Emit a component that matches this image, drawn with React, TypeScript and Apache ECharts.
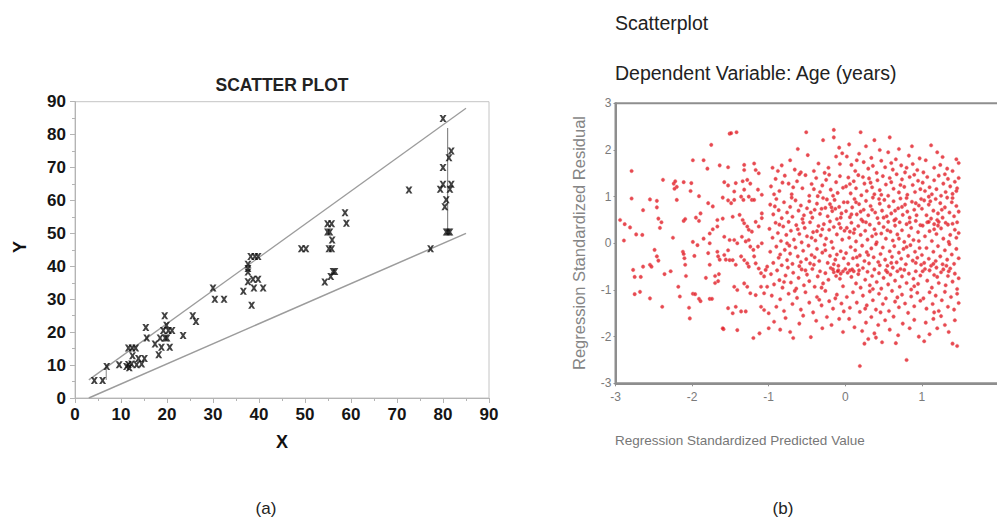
import React, { useEffect, useRef } from "react";
import * as echarts from "echarts";

// ---------- Chart (a): SCATTER PLOT ----------
const axisTicksA = [0, 10, 20, 30, 40, 50, 60, 70, 80, 90];

const scatterPointsA: [number, number][] = [
  [4.2, 5.3], [6.0, 5.3], [6.9, 9.6], [9.6, 10.1], [11.2, 9.6], [11.8, 9.2], [11.6, 10.2], [12.3, 10.3],
  [13.4, 10.1], [14.5, 10.3], [11.6, 15.2], [12.4, 15.2], [13.2, 15.2], [12.5, 12.8], [13.8, 12],
  [15.1, 12], [15.4, 21.4], [15.6, 18.2], [17.4, 16.4], [18.2, 13.1], [18.8, 15.4], [18.5, 18.2],
  [19.6, 18.2], [19.2, 20.5], [20.3, 20.5], [21.1, 20.5], [19.5, 25], [19.9, 22.1], [20, 18.2],
  [20.6, 15.4], [23.5, 19], [25.6, 25], [26.3, 23.2], [30, 33.4], [30.4, 30], [32.4, 30], [36.6, 32.4],
  [37.6, 40.6], [37.6, 39.3], [37.6, 38.3], [37.6, 35.3], [38.2, 43], [39.1, 43], [39.8, 43],
  [38.4, 28.2], [38.7, 36.1], [39.8, 36.1], [38.9, 33.4], [40.9, 33.4], [49.2, 45.3], [50.2, 45.3],
  [54.3, 35.2], [54.9, 50.4], [55.4, 50.4], [54.9, 52.9], [55.8, 52.9], [55.2, 45.3], [55.8, 45.3],
  [55.9, 48], [55.6, 36.9], [56.1, 38.4], [56.5, 38.4], [58.7, 56.3], [59, 53.1], [72.6, 63.2],
  [77.3, 45.3], [80, 84.9], [80, 70], [79.4, 63.4], [80, 64.9], [80.4, 58.1], [80.7, 60.2],
  [80.7, 50.4], [81.1, 50.4], [81.5, 50.4], [81.3, 73], [81.8, 75], [81.5, 63.4], [81.8, 64.9],
];

const upperBound: [number, number][] = [[3, 5.5], [85, 88]];
const lowerBound: [number, number][] = [[3, 0], [85, 50]];
const rangeBar: [number, number][] = [[81, 50.5], [81, 82]];
const smallBar: [number, number][] = [[6.8, 5.5], [6.8, 10]];

// ---------- Chart (b): Residual scatterplot ----------
const axisTicksB = [-3, -2, -1, 0, 1, 2, 3];

const residualsBandA: [number, number][] = [
  [-2.94, 0.5], [-2.88, 0.41], [-2.81, 0.34], [-2.89, 0.06], [-2.79, 1.55], [-2.79, 0.96], [-2.73, 0.19],
  [-2.65, 0.18], [-2.64, 0.71], [-2.55, 0.94], [-2.46, 0.91], [-2.46, 0.77], [-2.44, 0.53], [-2.4, 0.45],
  [-2.42, 0.33], [-2.77, -0.57], [-2.75, -0.72], [-2.67, -0.72], [-2.64, -0.5], [-2.55, -0.46],
  [-2.53, -0.5], [-2.75, -1.09], [-2.68, -1.04], [-2.55, -1.18], [-2.49, -0.14], [-2.46, -0.28],
  [-2.44, -0.37], [-2.38, 1.36], [-2.36, -0.66], [-2.28, -0.6], [-2.39, -1.36], [-2.25, 0.12],
  [-2.24, 1.28], [-2.22, 1.33], [-2.2, 1.21], [-2.23, 1.17], [-2.11, 1.31], [-2.01, 1.29], [-2.02, 1.12],
  [-2.2, 0.93], [-2.11, 0.48], [-2.09, 0.52], [-2.12, -0.18], [-2.11, -0.23], [-2.1, -0.32],
  [-2.09, -0.46], [-2.08, -0.7], [-2.18, -0.93], [-2.16, -1.14], [-2.04, -1.38], [-2.03, -1.61],
];

const residualsBandB: [number, number][] = [
  [-1.99, 0.03], [-1.93, -0.04], [-1.97, -0.27], [-1.99, 1.78], [-1.85, 1.78], [-1.91, 1.01], [-1.95, 0.55],
  [-1.91, 0.48], [-1.89, 0.64], [-1.99, -1.08], [-1.96, -1.09], [-1.91, -1.19], [-1.89, -1.24], [-1.8, 1.6],
  [-1.75, 2.11], [-1.77, -1.19], [-1.74, -1.19], [-1.82, -0.74], [-1.77, -0.46], [-1.79, -0.21], [-1.77, 0.0],
  [-1.85, 0.1], [-1.77, 0.21], [-1.73, 0.3], [-1.67, 0.36], [-1.67, 0.5], [-1.7, -0.85], [-1.66, -0.81],
  [-1.7, -0.7], [-1.65, -0.66], [-1.64, 1.67], [-1.53, 1.63], [-1.51, 2.35], [-1.59, -1.84], [-1.73, 0.79],
  [-1.79, 0.86], [-1.58, 1.31], [-1.53, 1.24], [-1.6, 0.98], [-1.53, 0.92], [-1.53, -0.15], [-1.58, -0.25],
  [-1.51, -0.36], [-1.56, -0.35], [-1.67, -0.18], [-1.66, -0.28], [-1.64, -0.35], [-1.58, 0.14], [-1.51, 0.07],
  [-1.6, 0.53], [-1.53, -1.39], [-1.49, 2.36], [-1.42, 2.38], [-1.32, 1.68], [-1.32, 1.57], [-1.19, 1.71],
  [-1.17, 1.57], [-1.13, 1.5], [-1.28, 1.36], [-1.24, 1.28], [-1.34, 1.33], [-1.32, 1.15], [-1.43, 1.29],
  [-1.45, 1.11], [-1.45, 0.93], [-1.49, 0.86], [-1.36, 1.0], [-1.33, 0.93], [-1.26, 1.0], [-1.22, 0.93],
  [-1.19, 0.93], [-1.14, 1.15], [-1.09, 1.04], [-1.47, 0.57], [-1.38, 0.61], [-1.34, 0.5], [-1.32, 0.43],
  [-1.28, 0.36], [-1.26, 0.29], [-1.22, 0.25], [-1.17, 0.46], [-1.13, 0.36], [-1.09, 0.64], [-1.09, 0.54],
  [-1.45, 0.07], [-1.41, 0.0], [-1.35, 0.14], [-1.3, 0.04], [-1.26, 0.07], [-1.24, -0.07], [-1.2, -0.14],
  [-1.14, -0.07], [-1.09, 0.0], [-1.47, -0.36], [-1.43, -0.46], [-1.36, -0.28], [-1.32, -0.36], [-1.28, -0.43],
  [-1.26, -0.5], [-1.19, -0.28], [-1.17, -0.43], [-1.13, -0.54], [-1.1, -0.64], [-1.06, -0.71], [-1.02, -0.5],
  [-1.04, -0.57], [-1.45, -0.93], [-1.41, -1.0], [-1.32, -0.86], [-1.28, -0.93], [-1.24, -1.07], [-1.17, -1.11],
  [-1.1, -0.93], [-1.06, -1.07], [-1.02, -0.93], [-1.43, -1.36], [-1.47, -1.5], [-1.36, -1.46], [-1.3, -1.46],
  [-1.1, -1.36], [-1.06, -1.43], [-1.0, -1.5], [-1.41, -1.86], [-1.6, -1.82], [-1.2, -2.03], [-1.12, -1.93],
  [-1.0, -1.82],
];

const residualsBandC: [number, number][] = [
  [-0.51, 2.38], [-0.15, 2.43], [-0.15, 2.27], [-0.29, 2.21], [-0.08, 2.05], [-0.62, 2.02],
  [-0.49, 1.89], [-0.95, 1.62], [-0.88, 1.55], [-0.72, 1.78], [-0.66, 1.58], [-0.35, 1.71], [-0.22, 1.62],
  [-0.12, 1.86], [-0.04, 1.93], [-0.58, 1.52], [-0.41, 1.55], [-0.83, 1.67], [-0.27, 1.51], [-0.07, 1.7],
  [-0.97, 1.22], [-0.91, 1.38], [-0.86, 1.12], [-0.79, 1.45], [-0.74, 1.28], [-0.7, 1.05], [-0.63, 1.33],
  [-0.56, 1.18], [-0.52, 1.46], [-0.47, 1.02], [-0.44, 1.27], [-0.38, 1.4], [-0.33, 1.1], [-0.3, 1.24],
  [-0.25, 1.36], [-0.19, 1.15], [-0.16, 1.02], [-0.12, 1.31], [-0.07, 1.44], [-0.03, 1.19], [-0.93, 1.05],
  [-0.6, 1.48], [-0.41, 1.16], [-0.21, 1.47], [-0.1, 1.08], [-0.82, 1.3], [-0.68, 1.2], [-0.36, 1.01],
  [-0.98, 0.83], [-0.94, 0.62], [-0.9, 0.95], [-0.87, 0.71], [-0.83, 0.54], [-0.8, 0.88], [-0.76, 0.66],
  [-0.72, 0.78], [-0.69, 0.57], [-0.65, 0.92], [-0.61, 0.7], [-0.58, 0.81], [-0.54, 0.6], [-0.5, 0.75],
  [-0.47, 0.9], [-0.43, 0.55], [-0.4, 0.72], [-0.37, 0.85], [-0.33, 0.63], [-0.29, 0.97], [-0.26, 0.76],
  [-0.23, 0.58], [-0.2, 0.84], [-0.17, 0.69], [-0.14, 0.93], [-0.11, 0.52], [-0.08, 0.78], [-0.05, 0.64],
  [-0.02, 0.88], [-0.92, 0.79], [-0.56, 0.52], [-0.31, 0.74], [-0.18, 0.77], [-0.13, 0.74], [-0.7, 0.98],
  [-0.45, 0.66], [-0.24, 0.94], [-0.06, 0.55],
  [-0.99, 0.31], [-0.95, 0.12], [-0.91, 0.44], [-0.88, 0.22], [-0.84, 0.05], [-0.81, 0.36], [-0.77, 0.18],
  [-0.74, 0.46], [-0.71, 0.27], [-0.67, 0.08], [-0.64, 0.39], [-0.6, 0.2], [-0.57, 0.02], [-0.53, 0.33],
  [-0.5, 0.15], [-0.46, 0.45], [-0.42, 0.24], [-0.39, 0.06], [-0.35, 0.37], [-0.32, 0.17], [-0.28, 0.41],
  [-0.25, 0.1], [-0.21, 0.29], [-0.18, 0.03], [-0.15, 0.35], [-0.11, 0.19], [-0.08, 0.42], [-0.04, 0.08],
  [-0.01, 0.27], [-0.86, 0.4], [-0.62, 0.3], [-0.44, 0.12], [-0.3, 0.3], [-0.2, 0.47], [-0.06, 0.33],
  [-0.55, 0.44], [-0.76, 0.0], [-0.37, 0.26],
  [-0.98, -0.18], [-0.94, -0.42], [-0.9, -0.07], [-0.87, -0.31], [-0.83, -0.47], [-0.79, -0.14],
  [-0.76, -0.36], [-0.72, -0.22], [-0.69, -0.44], [-0.65, -0.09], [-0.62, -0.28], [-0.58, -0.4],
  [-0.55, -0.16], [-0.51, -0.34], [-0.48, -0.05], [-0.44, -0.25], [-0.41, -0.46], [-0.37, -0.12],
  [-0.34, -0.38], [-0.3, -0.2], [-0.27, -0.03], [-0.23, -0.42], [-0.2, -0.27], [-0.16, -0.1],
  [-0.13, -0.35], [-0.09, -0.48], [-0.06, -0.17], [-0.02, -0.32], [-0.73, -0.05], [-0.46, -0.43],
  [-0.26, -0.15], [-0.11, -0.24], [-0.6, -0.49], [-0.85, -0.24], [-0.4, -0.3], [-0.15, -0.45],
  [-0.97, -0.66], [-0.93, -0.88], [-0.89, -0.58], [-0.86, -0.79], [-0.82, -0.95], [-0.78, -0.69],
  [-0.75, -0.52], [-0.71, -0.84], [-0.68, -0.63], [-0.64, -0.97], [-0.61, -0.74], [-0.57, -0.56],
  [-0.54, -0.9], [-0.5, -0.67], [-0.47, -0.81], [-0.43, -0.55], [-0.4, -0.93], [-0.36, -0.71],
  [-0.33, -0.6], [-0.29, -0.86], [-0.26, -0.64], [-0.22, -0.78], [-0.19, -0.53], [-0.15, -0.62],
  [-0.12, -0.7], [-0.09, -0.58], [-0.06, -0.65], [-0.03, -0.92], [-0.16, -0.56], [-0.1, -0.6],
  [-0.8, -0.83], [-0.52, -0.58], [-0.31, -0.95], [-0.07, -0.76],
  [-0.96, -1.12], [-0.9, -1.36], [-0.85, -1.2], [-0.8, -1.45], [-0.74, -1.08], [-0.69, -1.3], [-0.63, -1.17],
  [-0.58, -1.42], [-0.52, -1.05], [-0.47, -1.27], [-0.42, -1.48], [-0.37, -1.15], [-0.31, -1.33],
  [-0.26, -1.02], [-0.21, -1.24], [-0.16, -1.4], [-0.11, -1.1], [-0.05, -1.29], [-0.02, -1.46],
  [-0.66, -1.02], [-0.34, -1.21], [-0.13, -1.18],
  [-0.93, -1.68], [-0.85, -1.85], [-0.78, -1.6], [-0.68, -2.03], [-0.6, -1.72], [-0.55, -1.55],
  [-0.45, -2.01], [-0.38, -1.66], [-0.3, -1.82], [-0.24, -1.58], [-0.18, -1.75], [-0.08, -1.62],
  [-0.03, -1.9], [-0.72, -1.9],
];

const residualsBandD: [number, number][] = [
  [0.2, 2.38], [0.38, 2.21], [0.58, 2.27], [0.27, 2.08], [0.87, 2.08], [0.05, 2.12], [0.7, 2.02], [0.45, 2.0],
  [0.02, 1.86], [0.08, 1.68], [0.13, 1.55], [0.18, 1.92], [0.24, 1.74], [0.3, 1.6], [0.34, 1.83], [0.41, 1.51],
  [0.47, 1.77], [0.52, 1.63], [0.56, 1.95], [0.62, 1.58], [0.66, 1.8], [0.73, 1.67], [0.78, 1.52], [0.83, 1.88],
  [0.88, 1.7], [0.94, 1.57], [0.97, 1.82], [0.36, 1.66], [0.6, 1.72], [0.15, 1.78], [0.8, 1.62],
  [0.01, 1.22], [0.04, 1.41], [0.07, 1.07], [0.11, 1.33], [0.14, 1.18], [0.17, 1.46], [0.21, 1.03],
  [0.25, 1.28], [0.28, 1.12], [0.31, 1.39], [0.35, 1.2], [0.38, 1.05], [0.42, 1.35], [0.45, 1.14],
  [0.49, 1.44], [0.53, 1.26], [0.56, 1.02], [0.6, 1.31], [0.63, 1.17], [0.67, 1.48], [0.7, 1.09],
  [0.74, 1.37], [0.77, 1.21], [0.81, 1.04], [0.84, 1.42], [0.88, 1.25], [0.91, 1.1], [0.95, 1.34],
  [0.98, 1.16], [0.23, 1.42], [0.47, 1.04], [0.72, 1.25], [0.9, 1.47], [0.06, 1.27], [0.33, 1.3], [0.58, 1.4],
  [0.01, 0.69], [0.03, 0.88], [0.06, 0.56], [0.09, 0.77], [0.12, 0.95], [0.15, 0.62], [0.18, 0.84],
  [0.21, 0.51], [0.24, 0.72], [0.27, 0.91], [0.3, 0.6], [0.33, 0.8], [0.36, 0.98], [0.39, 0.66],
  [0.42, 0.54], [0.45, 0.85], [0.48, 0.7], [0.51, 0.93], [0.54, 0.58], [0.57, 0.79], [0.6, 0.64],
  [0.63, 0.9], [0.66, 0.52], [0.69, 0.75], [0.72, 0.96], [0.75, 0.61], [0.78, 0.83], [0.81, 0.68],
  [0.84, 0.55], [0.87, 0.89], [0.9, 0.72], [0.93, 0.6], [0.96, 0.81], [0.99, 0.95], [0.08, 0.62],
  [0.2, 0.68], [0.35, 0.72], [0.5, 0.55], [0.65, 0.7], [0.8, 0.97], [0.92, 0.86], [0.14, 0.88],
  [0.44, 0.95], [0.74, 0.78],
  [0.02, 0.33], [0.05, 0.12], [0.08, 0.44], [0.11, 0.22], [0.14, 0.04], [0.17, 0.37], [0.2, 0.18],
  [0.23, 0.47], [0.26, 0.27], [0.29, 0.08], [0.32, 0.4], [0.35, 0.15], [0.38, 0.3], [0.41, 0.02],
  [0.44, 0.43], [0.47, 0.21], [0.5, 0.35], [0.53, 0.1], [0.56, 0.46], [0.59, 0.25], [0.62, 0.06],
  [0.65, 0.38], [0.68, 0.19], [0.71, 0.45], [0.74, 0.28], [0.77, 0.03], [0.8, 0.41], [0.83, 0.16],
  [0.86, 0.33], [0.89, 0.07], [0.92, 0.48], [0.95, 0.24], [0.98, 0.39], [0.12, 0.3], [0.27, 0.45],
  [0.4, 0.2], [0.55, 0.28], [0.7, 0.1], [0.84, 0.45], [0.96, 0.05], [0.06, 0.25], [0.64, 0.49],
  [0.01, -0.21], [0.04, -0.44], [0.07, -0.08], [0.1, -0.32], [0.13, -0.15], [0.16, -0.47], [0.19, -0.26],
  [0.22, -0.05], [0.25, -0.38], [0.28, -0.19], [0.31, -0.43], [0.34, -0.11], [0.37, -0.3], [0.4, -0.02],
  [0.43, -0.4], [0.46, -0.23], [0.49, -0.09], [0.52, -0.35], [0.55, -0.48], [0.58, -0.17], [0.61, -0.29],
  [0.64, -0.06], [0.67, -0.41], [0.7, -0.2], [0.73, -0.33], [0.76, -0.12], [0.79, -0.45], [0.82, -0.27],
  [0.85, -0.04], [0.88, -0.37], [0.91, -0.18], [0.94, -0.31], [0.97, -0.1], [0.99, -0.46], [0.3, -0.25],
  [0.6, -0.42], [0.8, -0.08], [0.15, -0.3], [0.45, -0.47], [0.92, -0.42],
  [0.0, -0.55], [0.03, -0.63], [0.06, -0.58], [0.08, -0.72], [0.11, -0.6], [0.14, -0.86], [0.17, -0.66],
  [0.2, -0.95], [0.23, -0.53], [0.26, -0.78], [0.29, -0.61], [0.32, -0.9], [0.35, -0.7], [0.38, -0.56],
  [0.41, -0.83], [0.44, -0.64], [0.47, -0.97], [0.5, -0.74], [0.53, -0.58], [0.56, -0.88], [0.59, -0.67],
  [0.62, -0.52], [0.65, -0.8], [0.68, -0.6], [0.71, -0.93], [0.74, -0.71], [0.77, -0.57], [0.8, -0.85],
  [0.83, -0.65], [0.86, -0.99], [0.89, -0.76], [0.92, -0.6], [0.95, -0.87], [0.98, -0.69], [-0.03, -0.6],
  [0.09, -0.56], [0.18, -0.58], [0.36, -0.98], [0.55, -0.62], [0.72, -0.55], [0.9, -0.92],
  [0.02, -1.15], [0.06, -1.38], [0.1, -1.05], [0.15, -1.27], [0.19, -1.47], [0.23, -1.12], [0.28, -1.33],
  [0.32, -1.03], [0.36, -1.22], [0.4, -1.42], [0.44, -1.08], [0.49, -1.3], [0.53, -1.18], [0.57, -1.45],
  [0.61, -1.02], [0.65, -1.25], [0.7, -1.37], [0.74, -1.1], [0.78, -1.29], [0.82, -1.49], [0.86, -1.14],
  [0.9, -1.35], [0.94, -1.06], [0.98, -1.23], [0.26, -1.4], [0.68, -1.16], [0.46, -1.48],
  [0.05, -1.62], [0.12, -1.8], [0.19, -2.63], [0.22, -1.88], [0.27, -1.7], [0.3, -2.05], [0.34, -1.58],
  [0.38, -1.93], [0.43, -1.75], [0.48, -2.12], [0.52, -1.65], [0.58, -1.85], [0.63, -1.57], [0.69, -1.97],
  [0.75, -1.72], [0.8, -2.5], [0.84, -1.82], [0.9, -1.64], [0.96, -2.0], [0.25, -2.15], [0.4, -2.02],
  [0.66, -2.14],
];

const residualsBandE: [number, number][] = [
  [1.12, 2.1], [1.2, 1.95], [1.27, 1.85], [1.45, 1.8], [1.48, 1.72], [1.05, 1.78], [1.33, 1.6], [1.16, 1.62],
  [1.4, 1.55], [1.02, 1.52], [1.24, 1.68],
  [1.01, 1.3], [1.04, 1.12], [1.07, 1.42], [1.1, 1.2], [1.13, 1.05], [1.16, 1.35], [1.19, 1.16], [1.22, 1.45],
  [1.25, 1.02], [1.28, 1.28], [1.31, 1.1], [1.34, 1.38], [1.37, 1.22], [1.4, 1.06], [1.43, 1.32],
  [1.46, 1.18], [1.48, 1.4], [1.3, 1.48], [1.09, 1.0], [1.45, 1.12],
  [1.0, 0.74], [1.03, 0.92], [1.06, 0.6], [1.09, 0.83], [1.12, 0.53], [1.15, 0.7], [1.18, 0.95], [1.21, 0.64],
  [1.24, 0.86], [1.27, 0.55], [1.3, 0.77], [1.33, 0.98], [1.36, 0.66], [1.39, 0.88], [1.42, 0.58],
  [1.45, 0.8], [1.48, 0.68], [1.11, 0.9], [1.26, 0.72], [1.4, 0.97], [1.2, 0.5],
  [1.01, 0.38], [1.04, 0.15], [1.07, 0.45], [1.1, 0.26], [1.13, 0.05], [1.16, 0.41], [1.19, 0.2],
  [1.22, 0.46], [1.25, 0.32], [1.28, 0.1], [1.31, 0.44], [1.34, 0.4], [1.37, 0.18], [1.4, 0.42],
  [1.43, 0.29], [1.46, 0.45], [1.48, 0.22], [1.09, 0.46], [1.21, 0.38], [1.35, 0.03], [1.45, 0.12], [1.16, 0.3],
  [1.0, -0.25], [1.03, -0.42], [1.06, -0.1], [1.09, -0.33], [1.12, -0.48], [1.15, -0.18], [1.18, -0.38],
  [1.21, -0.06], [1.24, -0.28], [1.27, -0.45], [1.3, -0.15], [1.33, -0.35], [1.36, -0.02], [1.39, -0.24],
  [1.42, -0.44], [1.45, -0.12], [1.48, -0.32], [1.15, -0.44], [1.32, -0.48],
  [1.01, -0.6], [1.04, -0.55], [1.07, -0.8], [1.1, -0.58], [1.13, -0.95], [1.16, -0.68], [1.19, -0.52],
  [1.22, -0.85], [1.25, -0.62], [1.28, -0.56], [1.31, -0.9], [1.34, -0.7], [1.37, -0.54], [1.4, -0.82],
  [1.43, -0.65], [1.46, -0.98], [1.48, -0.75], [1.2, -0.72], [1.35, -0.6],
  [1.02, -1.18], [1.06, -1.4], [1.1, -1.05], [1.14, -1.3], [1.18, -1.12], [1.22, -1.45], [1.26, -1.22],
  [1.3, -1.04], [1.34, -1.36], [1.38, -1.15], [1.42, -1.42], [1.46, -1.08], [1.48, -1.28], [1.16, -1.48],
  [1.05, -1.7], [1.1, -1.95], [1.15, -1.62], [1.2, -1.82], [1.25, -1.56], [1.3, -1.75], [1.35, -1.9],
  [1.4, -2.15], [1.46, -2.2], [1.43, -1.65], [1.03, -2.1],
];

const residualPoints = [
  ...residualsBandA,
  ...residualsBandB,
  ...residualsBandC,
  ...residualsBandD,
  ...residualsBandE,
];

const X_MARK = "path://M0,0L3.2,0L5,2.6L6.8,0L10,0L6.7,5L10,10L6.8,10L5,7.4L3.2,10L0,10L3.3,5Z";
const FONT = "'Liberation Sans', Arial, sans-serif";

export default function App() {
  const ref = useRef<HTMLDivElement>(null);

  useEffect(() => {
    if (!ref.current) return;
    const chart = echarts.init(ref.current, undefined, { renderer: "svg" });

    const lineSeries = (data: [number, number][], width = 1.3) => ({
      type: "line",
      xAxisIndex: 0,
      yAxisIndex: 0,
      data,
      symbol: "none",
      silent: true,
      lineStyle: { color: "#9c9c9c", width },
      z: 1,
    });

    chart.setOption({
      animation: false,
      backgroundColor: "#ffffff",
      textStyle: { fontFamily: FONT },
      grid: [
        {
          left: 75,
          top: 101.7,
          width: 414,
          height: 296.3,
          show: true,
          borderColor: "#c4c4c4",
          borderWidth: 1,
          containLabel: false,
          outerBoundsMode: "none",
        },
        {
          left: 615.5,
          top: 103.3,
          width: 459.6,
          height: 280,
          show: true,
          borderColor: "#8e8e8e",
          borderWidth: 2,
          containLabel: false,
          outerBoundsMode: "none",
        },
      ],
      xAxis: [
        {
          type: "value",
          gridIndex: 0,
          min: axisTicksA[0],
          max: axisTicksA[axisTicksA.length - 1],
          interval: 10,
          axisLine: { show: true, onZero: false, lineStyle: { color: "#b4b4b4" } },
          axisTick: { show: true, length: 5, lineStyle: { color: "#b4b4b4" } },
          minorTick: { show: true, splitNumber: 2, length: 3, lineStyle: { color: "#b4b4b4" } },
          splitLine: { show: false },
          axisLabel: { fontFamily: FONT, fontWeight: "bold", fontSize: 17, color: "#151515", margin: 8 },
        },
        {
          type: "value",
          gridIndex: 1,
          min: axisTicksB[0],
          max: axisTicksB[axisTicksB.length - 1],
          interval: 1,
          axisLine: { show: true, onZero: false, lineStyle: { color: "#8e8e8e", width: 2 } },
          axisTick: { show: true, length: 3, lineStyle: { color: "#8e8e8e" } },
          splitLine: { show: false },
          axisLabel: {
            fontFamily: FONT,
            fontSize: 12,
            color: "#7a7a7a",
            margin: 8,
            formatter: (v: number) => (v >= 2 ? "" : String(v)),
          },
        },
      ],
      yAxis: [
        {
          type: "value",
          gridIndex: 0,
          min: axisTicksA[0],
          max: axisTicksA[axisTicksA.length - 1],
          interval: 10,
          axisLine: { show: true, onZero: false, lineStyle: { color: "#b4b4b4" } },
          axisTick: { show: true, length: 5, lineStyle: { color: "#b4b4b4" } },
          minorTick: { show: true, splitNumber: 2, length: 3, lineStyle: { color: "#b4b4b4" } },
          splitLine: { show: false },
          axisLabel: { fontFamily: FONT, fontWeight: "bold", fontSize: 17, color: "#151515", margin: 9 },
        },
        {
          type: "value",
          gridIndex: 1,
          min: axisTicksB[0],
          max: axisTicksB[axisTicksB.length - 1],
          interval: 1,
          axisLine: { show: true, onZero: false, lineStyle: { color: "#8e8e8e", width: 2 } },
          axisTick: { show: true, length: 2, lineStyle: { color: "#8e8e8e" } },
          splitLine: { show: false },
          axisLabel: { fontFamily: FONT, fontSize: 12, color: "#7a7a7a", margin: 4 },
        },
      ],
      series: [
        lineSeries(upperBound),
        lineSeries(lowerBound, 1.5),
        {
          ...lineSeries(rangeBar, 1.2),
          lineStyle: { color: "#8a8a8a", width: 1.2 },
        },
        lineSeries(smallBar, 1.2),
        {
          type: "scatter",
          xAxisIndex: 0,
          yAxisIndex: 0,
          data: scatterPointsA,
          symbol: X_MARK,
          symbolSize: [7, 7],
          itemStyle: { color: "#111" },
          z: 3,
        },
        {
          type: "scatter",
          xAxisIndex: 1,
          yAxisIndex: 1,
          data: residualPoints,
          symbol: "circle",
          symbolSize: 3.6,
          itemStyle: { color: "#e01c25", borderColor: "#f2787b", borderWidth: 0.5 },
          z: 3,
        },
      ],
      graphic: [
        {
          type: "text",
          x: 282,
          y: 85,
          style: { text: "SCATTER PLOT", font: `bold 17.5px ${FONT}`, fill: "#222", align: "center", verticalAlign: "middle" },
        },
        {
          type: "text",
          x: 20,
          y: 247,
          rotation: Math.PI / 2,
          style: { text: "Y", font: `bold 18px ${FONT}`, fill: "#111", align: "center", verticalAlign: "middle" },
        },
        {
          type: "text",
          x: 282,
          y: 442,
          style: { text: "X", font: `bold 18px ${FONT}`, fill: "#111", align: "center", verticalAlign: "middle" },
        },
        {
          type: "text",
          x: 615,
          y: 23,
          style: { text: "Scatterplot", font: `19.5px ${FONT}`, fill: "#222", align: "left", verticalAlign: "middle" },
        },
        {
          type: "text",
          x: 615,
          y: 73,
          style: {
            text: "Dependent Variable: Age (years)",
            font: `19.5px ${FONT}`,
            fill: "#222",
            align: "left",
            verticalAlign: "middle",
          },
        },
        {
          type: "text",
          x: 579,
          y: 243,
          rotation: Math.PI / 2,
          style: {
            text: "Regression Standardized Residual",
            font: `16.5px ${FONT}`,
            fill: "#858585",
            align: "center",
            verticalAlign: "middle",
          },
        },
        {
          type: "text",
          x: 615,
          y: 440,
          style: {
            text: "Regression Standardized Predicted Value",
            font: `13.5px ${FONT}`,
            fill: "#777",
            align: "left",
            verticalAlign: "middle",
          },
        },
        {
          type: "text",
          x: 266,
          y: 508,
          style: { text: "(a)", font: `17px ${FONT}`, fill: "#222", align: "center", verticalAlign: "middle" },
        },
        {
          type: "text",
          x: 783,
          y: 508,
          style: { text: "(b)", font: `17px ${FONT}`, fill: "#222", align: "center", verticalAlign: "middle" },
        },
      ],
    });

    return () => chart.dispose();
  }, []);

  return (
    <div
      ref={ref}
      style={{ position: "absolute", left: 0, top: 0, width: 997, height: 525, background: "#fff" }}
    />
  );
}
